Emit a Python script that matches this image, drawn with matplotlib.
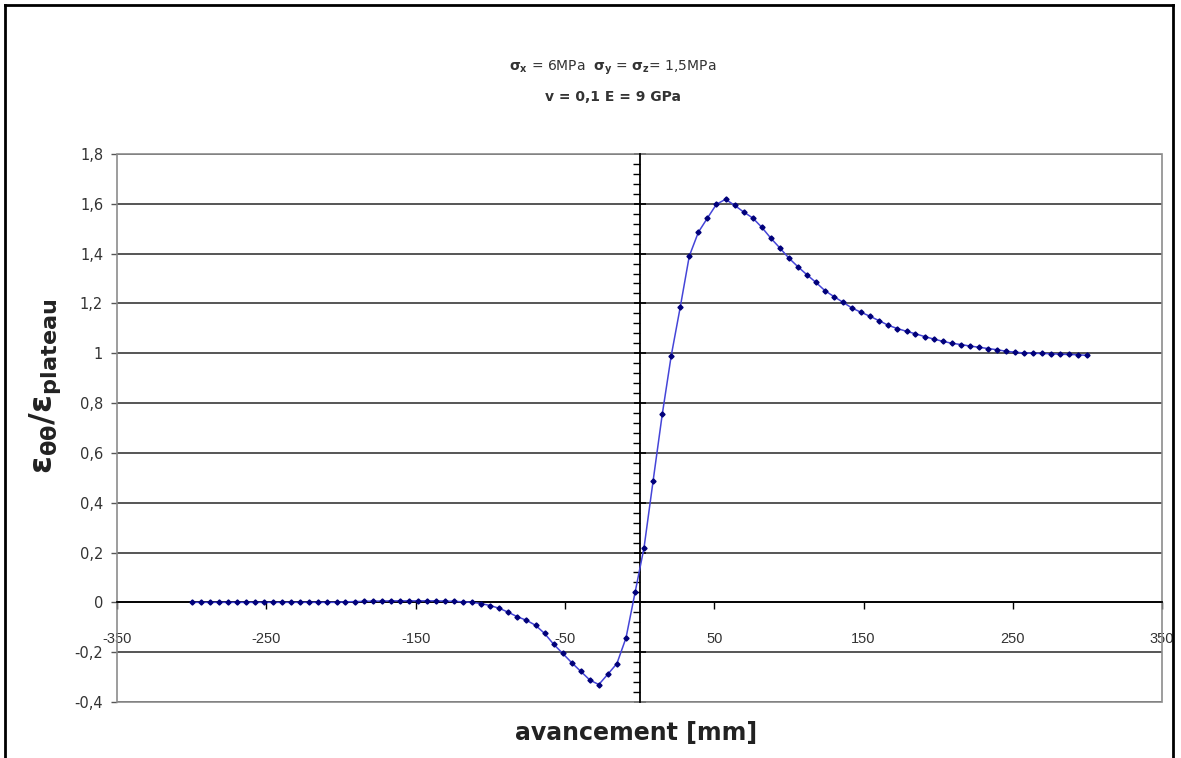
import matplotlib
matplotlib.use("Agg")
import matplotlib.pyplot as plt
from matplotlib.ticker import MultipleLocator
from matplotlib.patches import Rectangle
from matplotlib.lines import Line2D

# avancement du front [mm] et deformation normalisee eps_tt / eps_plateau
avancement = [
    -300.0, -293.9, -287.9, -281.8, -275.8, -269.7, -263.6, -257.6, -251.5, -245.5,
    -239.4, -233.3, -227.3, -221.2, -215.2, -209.1, -203.0, -197.0, -190.9, -184.8,
    -178.8, -172.7, -166.7, -160.6, -154.5, -148.5, -142.4, -136.4, -130.3, -124.2,
    -118.2, -112.1, -106.1, -100.0, -93.9, -87.9, -81.8, -75.8, -69.7, -63.6,
    -57.6, -51.5, -45.5, -39.4, -33.3, -27.3, -21.2, -15.2, -9.1, -3.0,
    3.0, 9.1, 15.2, 21.2, 27.3, 33.3, 39.4, 45.5, 51.5, 57.6,
    63.6, 69.7, 75.8, 81.8, 87.9, 93.9, 100.0, 106.1, 112.1, 118.2,
    124.2, 130.3, 136.4, 142.4, 148.5, 154.5, 160.6, 166.7, 172.7, 178.8,
    184.8, 190.9, 197.0, 203.0, 209.1, 215.2, 221.2, 227.3, 233.3, 239.4,
    245.5, 251.5, 257.6, 263.6, 269.7, 275.8, 281.8, 287.9, 293.9, 300.0,
]
ratio = [
    0.0, 0.0, 0.0, 0.0, 0.0, 0.0, 0.0, 0.0, 0.0, 0.0,
    0.0, 0.0, 0.0, 0.0, 0.0, 0.0, 0.0, 0.002, 0.003, 0.004,
    0.005, 0.005, 0.006, 0.006, 0.006, 0.006, 0.006, 0.006, 0.005, 0.004,
    0.002, 0.0, -0.005, -0.013, -0.024, -0.040, -0.058, -0.072, -0.092, -0.125,
    -0.168, -0.205, -0.242, -0.277, -0.312, -0.330, -0.288, -0.246, -0.143, 0.040,
    0.220, 0.489, 0.755, 0.990, 1.187, 1.390, 1.486, 1.543, 1.598, 1.618,
    1.594, 1.567, 1.543, 1.506, 1.462, 1.423, 1.382, 1.347, 1.315, 1.284,
    1.251, 1.227, 1.204, 1.181, 1.164, 1.148, 1.130, 1.112, 1.099, 1.088,
    1.078, 1.067, 1.057, 1.048, 1.040, 1.035, 1.029, 1.024, 1.019, 1.014,
    1.008, 1.004, 1.001, 1.000, 0.999, 0.998, 0.996, 0.995, 0.994, 0.991,
]

y_ticks = [-0.4, -0.2, 0, 0.2, 0.4, 0.6, 0.8, 1, 1.2, 1.4, 1.6, 1.8]
y_labels = ["-0,4", "-0,2", "0", "0,2", "0,4", "0,6", "0,8", "1", "1,2", "1,4", "1,6", "1,8"]
x_ticks = [-350, -250, -150, -50, 50, 150, 250, 350]
x_labels = ["-350", "-250", "-150", "-50", "50", "150", "250", "350"]

fig = plt.figure(figsize=(11.81, 7.58), dpi=100)
ax = fig.add_axes([0.0991, 0.0739, 0.8849, 0.7230])
ax.set_xlim(-350, 350)
ax.set_ylim(-0.4, 1.8)

# axes qui se croisent en (0, 0), style Excel
for side in ["top", "right"]:
    ax.spines[side].set_visible(False)
ax.spines["left"].set_position(("data", 0))
ax.spines["bottom"].set_position(("data", 0))
ax.spines["left"].set_linewidth(1.3)
ax.spines["bottom"].set_linewidth(1.3)
ax.add_patch(Rectangle((0, 0), 1, 1, transform=ax.transAxes, fill=False,
                       ec="#8c8c8c", lw=1.2, zorder=0.6, clip_on=False))

ax.yaxis.set_major_locator(MultipleLocator(0.2))
ax.yaxis.set_minor_locator(MultipleLocator(0.04))
ax.tick_params(axis="y", which="major", direction="inout", length=9, width=1.2, labelleft=False)
ax.tick_params(axis="y", which="minor", direction="out", length=5, width=1.0)
ax.grid(axis="y", which="major", color="#555555", lw=1.4)
ax.set_axisbelow(True)

ax.set_xticks(x_ticks, labels=x_labels)
ax.tick_params(axis="x", direction="out", length=5, width=1.0, pad=16,
               labelsize=10.5, labelcolor="#333333")
for lab in ax.get_xticklabels():
    lab.set_fontfamily("Liberation Sans")

sec = ax.secondary_yaxis(0.0)
sec.set_yticks(y_ticks, labels=y_labels)
sec.spines["left"].set_visible(False)
sec.tick_params(axis="y", direction="out", length=4, width=1.0, color="#555555",
                labelsize=10.5, labelcolor="#333333", pad=6)

ax.plot(avancement, ratio, color="#4545d8", lw=1.1, marker="D", markersize=2.6,
        markerfacecolor="#00007a", markeredgecolor="#00007a", zorder=3, clip_on=False)

# titres
fig.text(0.519, 0.911, r"$\mathbf{σ_x}$ = 6MPa  $\mathbf{σ_y}$ = $\mathbf{σ_z}$= 1,5MPa",
         ha="center", va="center", fontsize=10, color="#333333")
fig.text(0.519, 0.872, "v = 0,1 E = 9 GPa", ha="center", va="center",
         fontsize=10, fontweight="bold", color="#333333")
fig.text(0.539, 0.033, "avancement [mm]", ha="center", va="center",
         fontsize=17, fontweight="bold", color="#222222")
fig.text(0.038, 0.49, r"$\mathbf{ε_{θθ}/ε_{plateau}}$", rotation=90,
         ha="center", va="center", fontsize=23, color="#222222")

# cadre du graphique
for xs, ys in [([0.004, 0.004], [0, 0.994]), ([0.004, 0.993], [0.994, 0.994]),
               ([0.993, 0.993], [0, 0.994])]:
    fig.add_artist(Line2D(xs, ys, color="black", lw=2))

fig.savefig("out.png", dpi=100)
